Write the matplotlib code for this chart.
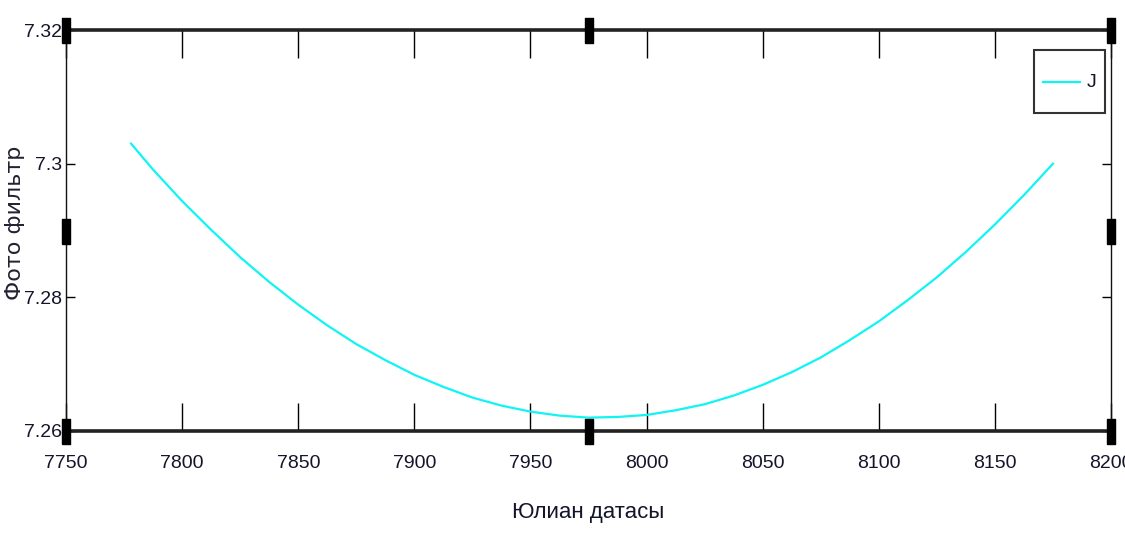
import matplotlib
matplotlib.use("Agg")
import matplotlib.pyplot as plt
import numpy as np
from matplotlib.path import Path
from matplotlib.legend_handler import HandlerLine2D

# values
julian = [7778, 7787.5, 7800, 7812.5, 7825, 7837.5, 7850, 7862.5, 7875, 7887.5,
          7900, 7912.5, 7925, 7937.5, 7950, 7962.5, 7975, 7987.5, 8000, 8012.5,
          8025, 8037.5, 8050, 8062.5, 8075, 8087.5, 8100, 8112.5, 8125, 8137.5,
          8150, 8162.5, 8175]
photo_j = [7.3030, 7.2991, 7.2944, 7.2901, 7.2860, 7.2823, 7.2789, 7.2758, 7.2730, 7.2706,
           7.2684, 7.2666, 7.2650, 7.2638, 7.2629, 7.2623, 7.2620, 7.2621, 7.2624, 7.2631,
           7.2640, 7.2653, 7.2669, 7.2688, 7.2710, 7.2736, 7.2764, 7.2796, 7.2830, 7.2868,
           7.2909, 7.2953, 7.3000]

xticks = [7750, 7800, 7850, 7900, 7950, 8000, 8050, 8100, 8150, 8200]
yticks = [7.26, 7.28, 7.30, 7.32]
ytick_labels = ["7.26", "7.28", "7.3", "7.32"]


class LowLine(HandlerLine2D):
    # put the legend sample level with the middle of the label
    def create_artists(self, legend, orig_handle, xdescent, ydescent,
                       width, height, fontsize, trans):
        arts = super().create_artists(legend, orig_handle, xdescent, ydescent,
                                      width, height, fontsize, trans)
        for a in arts:
            a.set_ydata(np.asarray(a.get_ydata()) - 0.45 * fontsize)
        return arts


plt.rcParams['font.family'] = ['Liberation Sans', 'DejaVu Sans']

fig = plt.figure(figsize=(11.25, 5.34), dpi=100)
ax = fig.add_axes([0.0587, 0.1929, 0.9289, 0.7509])

line, = ax.plot(julian, photo_j, color="#10f4f4", lw=1.6, label="J")

ax.set_xlim(7750, 8200)
ax.set_ylim(7.26, 7.32)
ax.set_xticks(xticks)
ax.set_yticks(yticks)
ax.set_yticklabels(ytick_labels)

txt_color = "#14142a"
ax.tick_params(axis="x", direction="in", length=20, width=1, top=True,
               labelsize=14, pad=17, labelcolor=txt_color)
ax.tick_params(axis="y", direction="in", length=6.5, width=1, right=True,
               labelsize=14, pad=3, labelcolor=txt_color)

for side in ("top", "bottom"):
    ax.spines[side].set_linewidth(2.6)
    ax.spines[side].set_color("#222222")
for side in ("left", "right"):
    ax.spines[side].set_linewidth(1.0)
    ax.spines[side].set_color("#111111")

ax.set_xlabel("Юлиан датасы", fontsize=16, color=txt_color)
ax.xaxis.set_label_coords(0.5, -0.178)
ax.set_ylabel("Фото фильтр", family=["DejaVu Sans"], fontsize=16,
              color="#222233")
ax.yaxis.set_label_coords(-0.039, 0.52)

# selection handles around the axes
handle = Path([[-0.5, -1.4], [0.5, -1.4], [0.5, 1.4], [-0.5, 1.4], [-0.5, -1.4]])
hx = [0, 0.5, 1, 0, 1, 0, 0.5, 1]
hy = [0, 0, 0, 0.5, 0.5, 1, 1, 1]
ax.plot(hx, hy, ls="none", marker=handle, markersize=18, color="black",
        transform=ax.transAxes, clip_on=False, zorder=5)

leg = ax.legend(loc="upper right", bbox_to_anchor=(0.9943, 0.95),
                fontsize=14, handlelength=1.9, handletextpad=0.35,
                handleheight=3.2, borderpad=0.45, borderaxespad=0,
                fancybox=False, framealpha=1,
                handler_map={line: LowLine()})
leg.get_frame().set_edgecolor("#333333")
leg.get_frame().set_linewidth(1.5)
for t in leg.get_texts():
    t.set_color(txt_color)

fig.savefig("out.png", dpi=100)
